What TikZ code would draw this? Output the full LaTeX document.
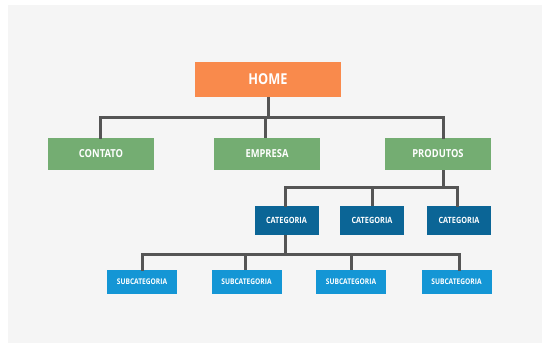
\documentclass[tikz,border=0pt]{standalone}
\usepackage{fontspec}
\setmainfont{Open Sans}[FakeStretch=0.85]
\definecolor{panel}{HTML}{F5F5F5}
\definecolor{homeor}{HTML}{F98A4C}
\definecolor{pagegreen}{HTML}{74AD72}
\definecolor{catblue}{HTML}{0B6596}
\definecolor{subblue}{HTML}{1496D5}
\definecolor{wire}{HTML}{555555}
\tikzset{
  box/.style={rectangle, inner sep=0pt, text=white, font=\bfseries},
  homebox/.style={box, fill=homeor, minimum width=146pt, minimum height=35pt, font=\bfseries\fontsize{15}{15}\selectfont},
  pagebox/.style={box, fill=pagegreen, minimum width=106pt, minimum height=32pt, font=\bfseries\fontsize{11}{11}\selectfont},
  catbox/.style={box, fill=catblue, minimum width=64pt, minimum height=29pt, font=\bfseries\fontsize{8.6}{8.6}\selectfont},
  subbox/.style={box, fill=subblue, minimum width=70pt, minimum height=24pt, font=\bfseries\fontsize{7.8}{7.8}\selectfont},
  conn/.style={draw=wire, line width=3pt}
}
\begin{document}
\begin{tikzpicture}[x=1pt, y=-1pt]
  \useasboundingbox (0,0) rectangle (542,343);
  \fill[panel] (8,5) rectangle (542,343);

  % site root
  \node[homebox] (home) at (268,79.5) {HOME};

  % main pages
  \node[pagebox] (contato)  at (101,154) {CONTATO};
  \node[pagebox] (empresa)  at (267,154) {EMPRESA};
  \node[pagebox] (produtos) at (438,154) {PRODUTOS};

  % categories
  \node[catbox] (cat1) at (286.5,220.5) {CATEGORIA};
  \node[catbox] (cat2) at (372,220.5) {CATEGORIA};
  \node[catbox] (cat3) at (459,220.5) {CATEGORIA};

  % subcategories
  \node[subbox] (sub1) at (142,282)   {SUBCATEGORIA};
  \node[subbox] (sub2) at (246.5,282) {SUBCATEGORIA};
  \node[subbox] (sub3) at (351,282)   {SUBCATEGORIA};
  \node[subbox] (sub4) at (456.5,282) {SUBCATEGORIA};

  % bus lines
  \coordinate (busA) at (0,117);
  \coordinate (busB) at (0,187);
  \coordinate (busC) at (0,254);

  \draw[conn] (home.south) -- (home.south |- busA);
  \draw[conn, line cap=rect] ([xshift=-1pt]contato.north) -- ([xshift=-1pt]contato.north |- busA)
        -- ([xshift=5pt]produtos.north |- busA) -- ([xshift=5pt]produtos.north);
  \draw[conn] ([xshift=-2pt]empresa.north) -- ([xshift=-2pt]empresa.north |- busA);

  \draw[conn] ([xshift=5pt]produtos.south) -- ([xshift=5pt]produtos.south |- busB);
  \draw[conn, line cap=rect] ([xshift=-1.5pt]cat1.north) -- ([xshift=-1.5pt]cat1.north |- busB)
        -- ([xshift=-2pt]cat3.north |- busB) -- ([xshift=-2pt]cat3.north);
  \draw[conn] (cat2.north) -- (cat2.north |- busB);

  \draw[conn] ([xshift=-1.5pt]cat1.south) -- ([xshift=-1.5pt]cat1.south |- busC);
  \draw[conn, line cap=rect] (sub1.north) -- (sub1.north |- busC)
        -- ([xshift=2.5pt]sub4.north |- busC) -- ([xshift=2.5pt]sub4.north);
  \draw[conn] ([xshift=-1.5pt]sub2.north) -- ([xshift=-1.5pt]sub2.north |- busC);
  \draw[conn] (sub3.north) -- (sub3.north |- busC);
\end{tikzpicture}
\end{document}
